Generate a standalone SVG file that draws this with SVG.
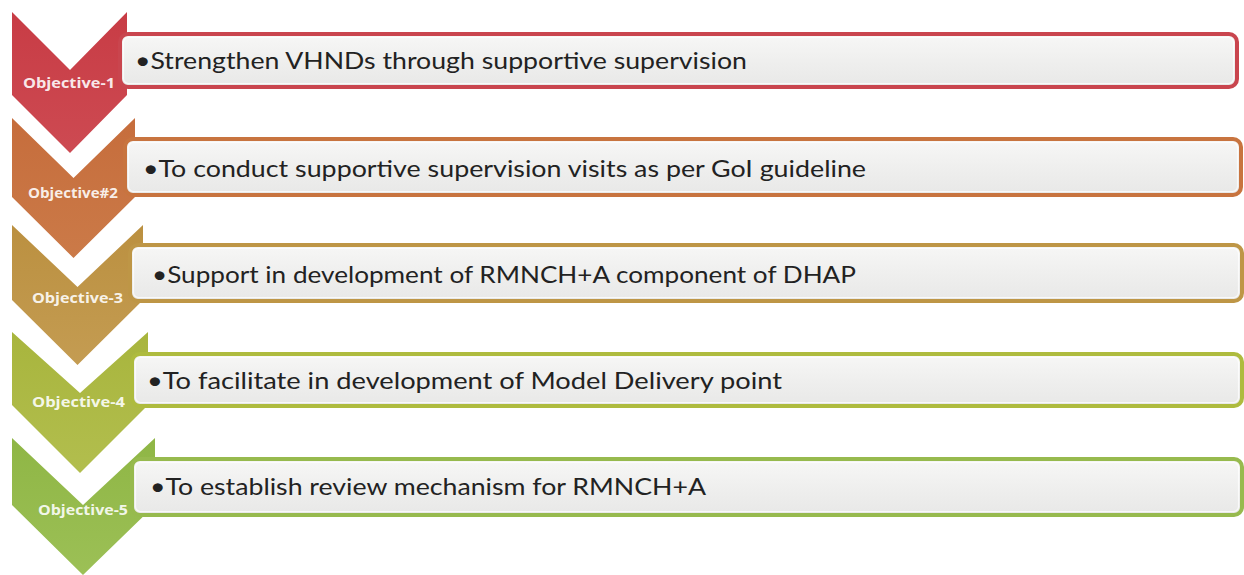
<svg xmlns="http://www.w3.org/2000/svg" width="1244" height="575" viewBox="0 0 1244 575">
  <defs>
    <linearGradient id="boxFill" x1="0" y1="0" x2="0" y2="1">
      <stop offset="0" stop-color="#F7F7F6"/>
      <stop offset="0.5" stop-color="#EFEFEE"/>
      <stop offset="1" stop-color="#E8E8E7"/>
    </linearGradient>
    <linearGradient id="g1" x1="0" y1="0" x2="0" y2="1">
      <stop offset="0" stop-color="#C83C45"/>
      <stop offset="1" stop-color="#CD4A52"/>
    </linearGradient>
    <linearGradient id="g2" x1="0" y1="0" x2="0" y2="1">
      <stop offset="0" stop-color="#C66D3C"/>
      <stop offset="1" stop-color="#CB7A48"/>
    </linearGradient>
    <linearGradient id="g3" x1="0" y1="0" x2="0" y2="1">
      <stop offset="0" stop-color="#BB9040"/>
      <stop offset="1" stop-color="#C49C52"/>
    </linearGradient>
    <linearGradient id="g4" x1="0" y1="0" x2="0" y2="1">
      <stop offset="0" stop-color="#A8B53D"/>
      <stop offset="1" stop-color="#B2BE4E"/>
    </linearGradient>
    <linearGradient id="g5" x1="0" y1="0" x2="0" y2="1">
      <stop offset="0" stop-color="#8FB645"/>
      <stop offset="1" stop-color="#9CC056"/>
    </linearGradient>
  </defs>
  <style>
    .box { fill: url(#boxFill); stroke-width: 4; }
    .inner { fill: none; stroke: #FFFFFF; stroke-opacity: 0.7; stroke-width: 1.2; }
    .txt { font-family: Lato, "Liberation Sans", sans-serif; font-size: 24px; fill: #222222; }
    .lbl { font-family: "Open Sans", "Liberation Sans", sans-serif; font-size: 13.5px; font-weight: bold; fill: #FFFFFF; fill-opacity: 0.9; }
  </style>
  <rect width="1244" height="575" fill="#FFFFFF"/>

  <g id="objective-1">
    <path d="M12,12 L70,70 L127,12 L127,95 L70,153 L12,95 Z" fill="url(#g1)"/>
    <rect class="box" x="120" y="34" width="1117" height="53" rx="8" stroke="#C9454E"/>
    <rect class="inner" x="123.5" y="37.5" width="1110" height="46" rx="5"/>
    <text class="txt" x="135" y="69" textLength="612" lengthAdjust="spacingAndGlyphs">•Strengthen VHNDs through supportive supervision</text>
    <text class="lbl" x="23" y="88" textLength="92" lengthAdjust="spacingAndGlyphs">Objective-1</text>
  </g>

  <g id="objective-2">
    <path d="M12,118 L73.5,178 L135,118 L135,197 L73.5,258 L12,197 Z" fill="url(#g2)"/>
    <rect class="box" x="125" y="139" width="1116" height="56" rx="8" stroke="#C8743F"/>
    <rect class="inner" x="128.5" y="142.5" width="1109" height="49" rx="5"/>
    <text class="txt" x="143" y="177" textLength="723" lengthAdjust="spacingAndGlyphs">•To conduct supportive supervision visits as per GoI guideline</text>
    <text class="lbl" x="28" y="198" textLength="90" lengthAdjust="spacingAndGlyphs">Objective#2</text>
  </g>

  <g id="objective-3">
    <path d="M12,225 L77.5,287 L143,225 L143,300 L77.5,365 L12,300 Z" fill="url(#g3)"/>
    <rect class="box" x="130" y="245" width="1112" height="56" rx="8" stroke="#BE9646"/>
    <rect class="inner" x="133.5" y="248.5" width="1105" height="49" rx="5"/>
    <text class="txt" x="152" y="283" textLength="704" lengthAdjust="spacingAndGlyphs">•Support in development of RMNCH+A component of DHAP</text>
    <text class="lbl" x="32" y="303" textLength="91" lengthAdjust="spacingAndGlyphs">Objective-3</text>
  </g>

  <g id="objective-4">
    <path d="M12,332 L80,393 L148,332 L148,405 L80,473 L12,405 Z" fill="url(#g4)"/>
    <rect class="box" x="132" y="354" width="1110" height="52" rx="8" stroke="#AEBB3E"/>
    <rect class="inner" x="135.5" y="357.5" width="1103" height="45" rx="5"/>
    <text class="txt" x="147" y="389" textLength="635" lengthAdjust="spacingAndGlyphs">•To facilitate in development of Model Delivery point</text>
    <text class="lbl" x="32" y="407" textLength="93" lengthAdjust="spacingAndGlyphs">Objective-4</text>
  </g>

  <g id="objective-5">
    <path d="M12,438 L83,505 L155,438 L155,505 L83,575 L12,505 Z" fill="url(#g5)"/>
    <rect class="box" x="132" y="459" width="1110" height="56" rx="8" stroke="#97BA4E"/>
    <rect class="inner" x="135.5" y="462.5" width="1103" height="49" rx="5"/>
    <text class="txt" x="150" y="495" textLength="556" lengthAdjust="spacingAndGlyphs">•To establish review mechanism for RMNCH+A</text>
    <text class="lbl" x="38" y="515" textLength="90" lengthAdjust="spacingAndGlyphs">Objective-5</text>
  </g>

  <g id="connectors"/>
</svg>
